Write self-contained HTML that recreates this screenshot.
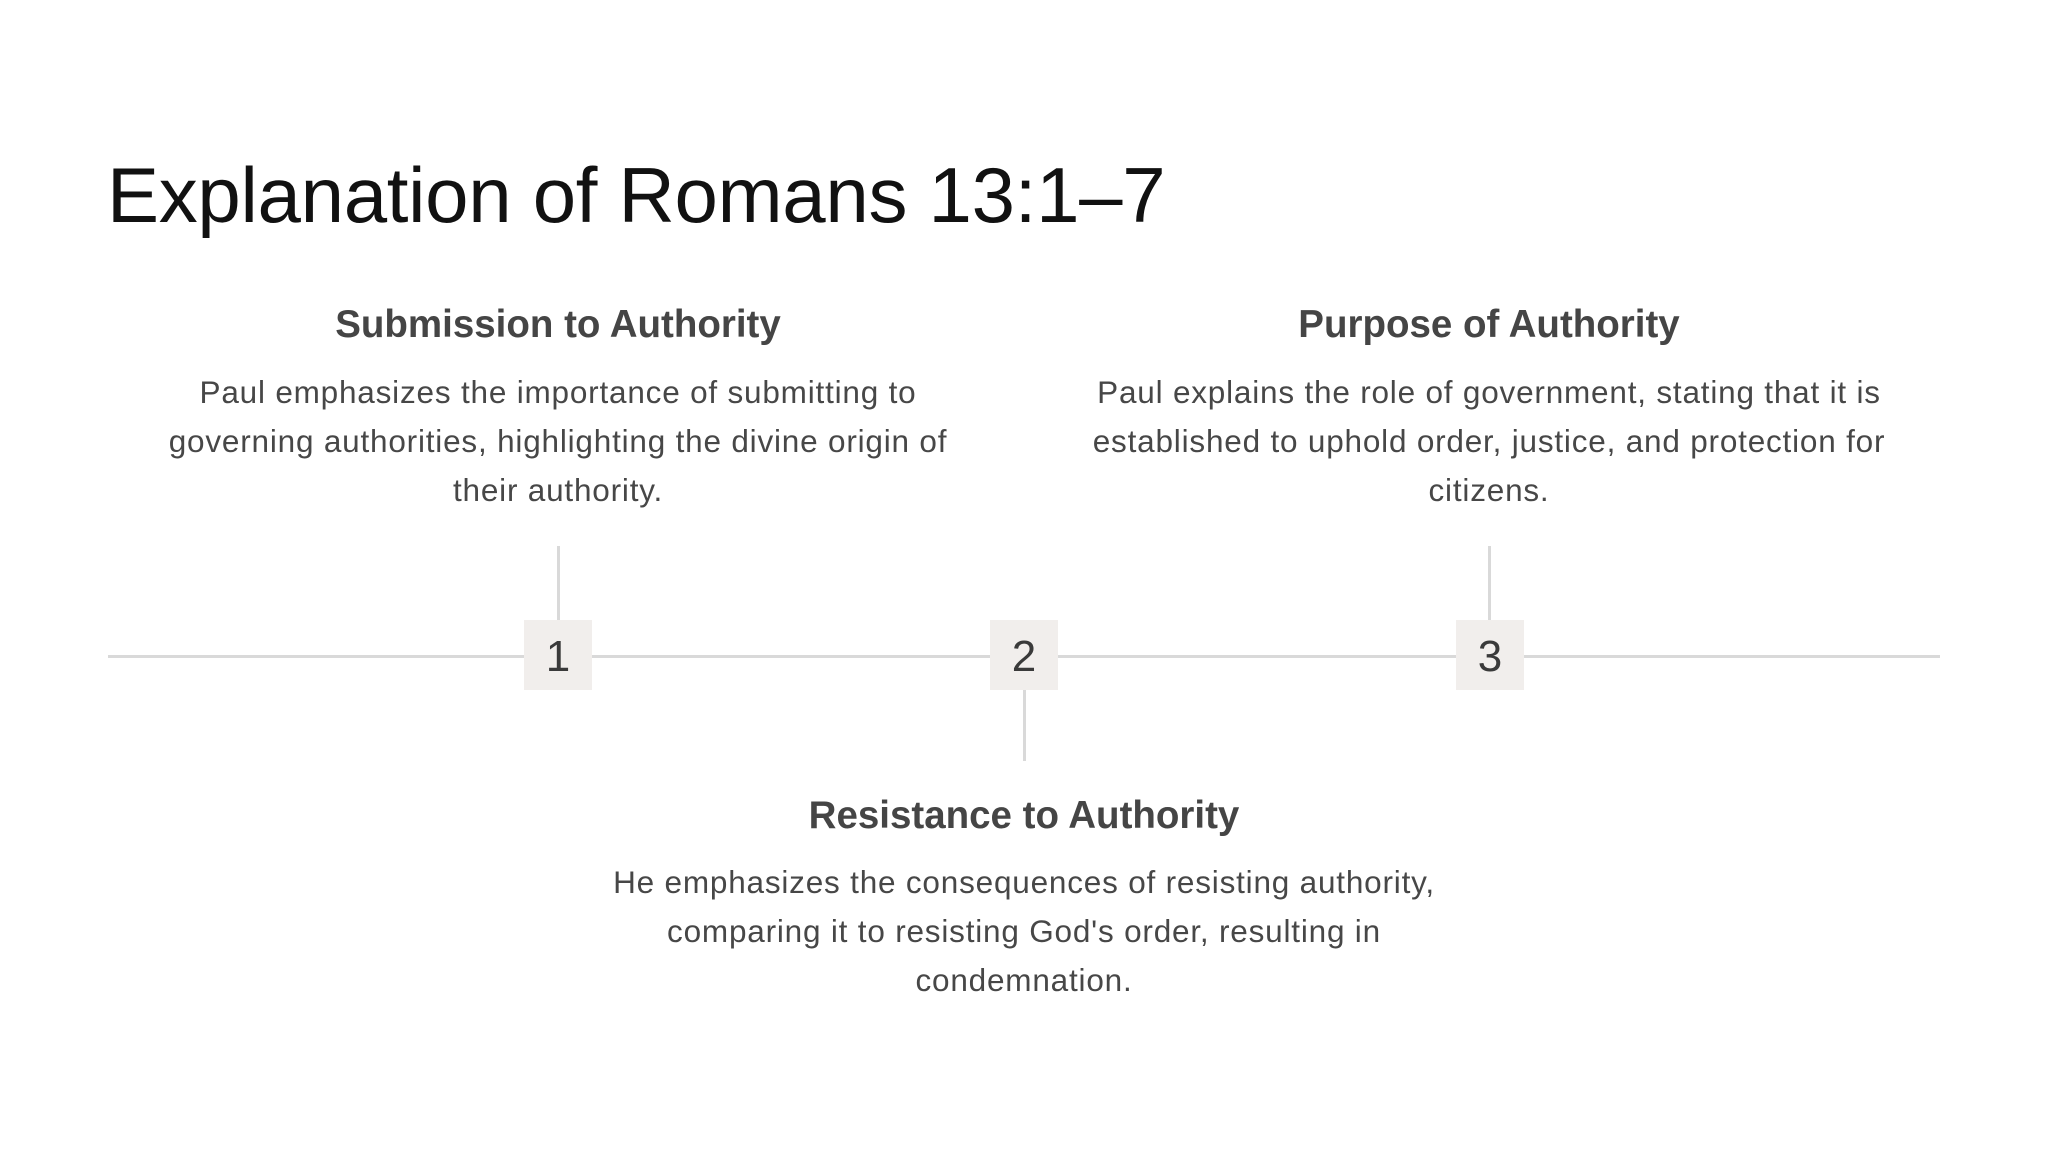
<!DOCTYPE html>
<html><head><meta charset="utf-8"><style>
body{margin:0;width:2048px;height:1152px;background:#fff;position:relative;overflow:hidden;font-family:"Liberation Sans",sans-serif;}
.a{position:absolute}
.title{left:107px;top:145px;font-size:78px;line-height:100px;color:#111;letter-spacing:-0.3px}
.h{font-size:38.5px;line-height:50px;color:#454545;text-align:center;font-weight:bold;width:900px}
.b{font-size:31.5px;line-height:49px;color:#474747;text-align:center;width:1000px;letter-spacing:0.8px;white-space:nowrap}
.line{background:#d9d9d9}
.box{background:#f1eeec;width:68px;height:70px;color:#3a3a3a;font-size:44px;line-height:74px;text-align:center}
</style></head><body>
<div class="a title">Explanation of Romans 13:1–7</div>
<div class="a line" style="left:108px;top:655px;width:1832px;height:3px"></div>
<div class="a line" style="left:557px;top:546px;width:3px;height:75px"></div>
<div class="a line" style="left:1023px;top:689px;width:3px;height:72px"></div>
<div class="a line" style="left:1488px;top:546px;width:3px;height:75px"></div>
<div class="a box" style="left:524px;top:620px">1</div>
<div class="a box" style="left:990px;top:620px">2</div>
<div class="a box" style="left:1456px;top:620px">3</div>
<div class="a h" style="left:108px;top:300px">Submission to Authority</div>
<div class="a b" style="left:58px;top:368px">Paul emphasizes the importance of submitting to<br>governing authorities, highlighting the divine origin of<br>their authority.</div>
<div class="a h" style="left:1039px;top:300px">Purpose of Authority</div>
<div class="a b" style="left:989px;top:368px">Paul explains the role of government, stating that it is<br>established to uphold order, justice, and protection for<br>citizens.</div>
<div class="a h" style="left:574px;top:791px">Resistance to Authority</div>
<div class="a b" style="left:524px;top:858px">He emphasizes the consequences of resisting authority,<br>comparing it to resisting God's order, resulting in<br>condemnation.</div>
</body></html>
